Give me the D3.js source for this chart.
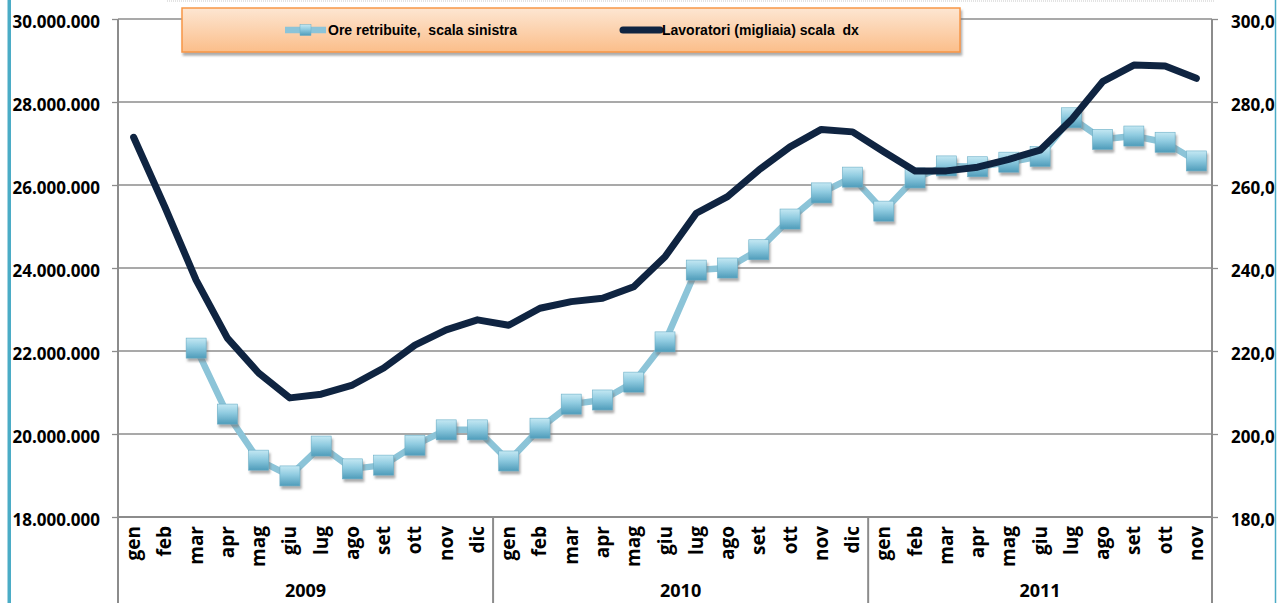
<!DOCTYPE html>
<html lang="it">
<head>
<meta charset="UTF-8">
<title>Ore retribuite e lavoratori</title>
<script src="https://d3js.org/d3.v7.min.js"></script>
<style>
    body { margin: 0; background: #fff; }
    svg { display: block; }
    .axis-label { font-family: "Open Sans", Arial, sans-serif; font-weight: 700; font-size: 17px; fill: #000; }
    .month-label { font-family: "Open Sans", Arial, sans-serif; font-weight: 700; font-size: 19px; fill: #000; }
    .year-label { font-family: "Open Sans", Arial, sans-serif; font-weight: 700; font-size: 18px; fill: #000; }
    .legend-text { font-family: "Liberation Sans", Arial, sans-serif; font-weight: 700; font-size: 14px; fill: #000; white-space: pre; }
</style>
</head>
<body>
<svg width="1277" height="603"></svg>
<script>
    // months / years for the category axis
    const monthNames = ["gen", "feb", "mar", "apr", "mag", "giu", "lug", "ago", "set", "ott", "nov", "dic"];
    const years = ["2009", "2010", "2011"];
    const monthsPerYear = [12, 12, 11];

    // Ore retribuite (left scale)
    const ore = [null, null, 22070000, 20480000, 19370000, 18990000, 19710000, 19160000, 19250000, 19730000,
        20100000, 20100000, 19350000, 20140000, 20720000, 20820000, 21250000, 22220000, 23950000, 24000000,
        24440000, 25180000, 25810000, 26190000, 25370000, 26170000, 26460000, 26440000, 26550000, 26690000,
        27620000, 27100000, 27180000, 27030000, 26580000];

    // Lavoratori in migliaia (right scale)
    const lavoratori = [271.5, 254.7, 237.1, 223.1, 214.7, 208.7, 209.6, 211.8, 215.9, 221.4,
        225.1, 227.5, 226.2, 230.3, 231.9, 232.7, 235.5, 242.7, 253.2, 257.2,
        263.6, 269.2, 273.4, 272.8, 268.0, 263.4, 263.4, 264.3, 266.2, 268.4,
        275.7, 284.9, 288.9, 288.7, 285.7];

    const leftTicks = [18000000, 20000000, 22000000, 24000000, 26000000, 28000000, 30000000];
    const rightTicks = [180, 200, 220, 240, 260, 280, 300];

    const legendNames = ["Ore retribuite,  scala sinistra", "Lavoratori (migliaia) scala  dx"];

    // build the category list
    const cats = [];
    years.forEach((y, yi) => {
        for (let m = 0; m < monthsPerYear[yi]; m++) cats.push({ year: y, month: monthNames[m] });
    });

    const plotLeft = 118, plotRight = 1212, plotTop = 19, plotBottom = 517;
    const svg = d3.select("svg");

    const x = d3.scaleBand().domain(d3.range(cats.length)).range([plotLeft, plotRight]).padding(0);
    const cx = i => x(i) + x.bandwidth() / 2;
    const yL = d3.scaleLinear().domain([18000000, 30000000]).range([plotBottom, plotTop]);
    const yR = d3.scaleLinear().domain([180, 300]).range([plotBottom, plotTop]);

    const it = d3.formatLocale({ decimal: ",", thousands: ".", grouping: [3], currency: ["", "€"] });
    const fmtL = it.format(",");
    const fmtR = it.format(".1f");

    const defs = svg.append("defs");
    const mg = defs.append("linearGradient").attr("id", "markerGrad").attr("x1", 0).attr("y1", 0).attr("x2", 0).attr("y2", 1);
    mg.append("stop").attr("offset", "0%").attr("stop-color", "#c4e8f3");
    mg.append("stop").attr("offset", "45%").attr("stop-color", "#8fcbe0");
    mg.append("stop").attr("offset", "100%").attr("stop-color", "#4f9cba");
    const lg = defs.append("linearGradient").attr("id", "legendGrad").attr("x1", 0).attr("y1", 0).attr("x2", 0).attr("y2", 1);
    lg.append("stop").attr("offset", "0%").attr("stop-color", "#fde6d2");
    lg.append("stop").attr("offset", "100%").attr("stop-color", "#fbbe8a");
    const sh = defs.append("filter").attr("id", "shadow").attr("x", "-30%").attr("y", "-30%").attr("width", "170%").attr("height", "170%");
    sh.append("feDropShadow").attr("dx", 1.5).attr("dy", 3).attr("stdDeviation", 1.3)
        .attr("flood-color", "#777").attr("flood-opacity", 0.6);

    // teal frame edges
    svg.append("rect").attr("x", 7.5).attr("y", 0).attr("width", 3.5).attr("height", 603).attr("fill", "#4bacc6");
    svg.append("line").attr("x1", 1275.5).attr("x2", 1275.5).attr("y1", 0).attr("y2", 603)
        .attr("stroke", "#4bacc6").attr("stroke-width", 1.5);
    svg.append("line").attr("x1", 167).attr("x2", 1215).attr("y1", 1).attr("y2", 1)
        .attr("stroke", "#dadada").attr("stroke-width", 1.5).attr("stroke-dasharray", "1,1");

    // gridlines
    svg.append("g").selectAll("line").data(leftTicks).join("line")
        .attr("x1", plotLeft).attr("x2", plotRight)
        .attr("y1", d => yL(d)).attr("y2", d => yL(d))
        .attr("stroke", "#8c8c8c").attr("stroke-width", 1.3);

    // left axis
    const gL = svg.append("g").attr("transform", `translate(${plotLeft},0)`)
        .call(d3.axisLeft(yL).tickValues(leftTicks).tickFormat(fmtL).tickSize(6).tickPadding(12));
    gL.select(".domain").remove();
    gL.selectAll(".tick line").attr("stroke", "#8c8c8c").attr("stroke-width", 1.3);
    gL.selectAll(".tick text").attr("class", "axis-label").attr("dy", "0.5em");
    gL.attr("font-family", null).attr("font-size", null);

    // right axis
    const gR = svg.append("g").attr("transform", `translate(${plotRight},0)`)
        .call(d3.axisRight(yR).tickValues(rightTicks).tickFormat(fmtR).tickSize(6).tickPadding(13));
    gR.select(".domain").remove();
    gR.selectAll(".tick line").attr("stroke", "#8c8c8c").attr("stroke-width", 1.3);
    gR.selectAll(".tick text").attr("class", "axis-label").attr("dy", "0.5em");
    gR.attr("font-family", null).attr("font-size", null);

    // vertical axis lines and year separators
    const seps = [0];
    monthsPerYear.reduce((acc, n) => { seps.push(acc + n); return acc + n; }, 0);
    svg.append("g").selectAll("line").data(seps).join("line")
        .attr("x1", d => d < cats.length ? x(d) : plotRight)
        .attr("x2", d => d < cats.length ? x(d) : plotRight)
        .attr("y1", d => (d === 0 || d === cats.length) ? plotTop : plotBottom)
        .attr("y2", 603)
        .attr("stroke", "#8c8c8c").attr("stroke-width", 2);
    svg.append("line").attr("x1", plotLeft).attr("x2", plotRight).attr("y1", plotBottom).attr("y2", plotBottom)
        .attr("stroke", "#8c8c8c").attr("stroke-width", 2);

    // month labels
    svg.append("g").selectAll("text").data(cats).join("text")
        .attr("class", "month-label")
        .attr("text-anchor", "end")
        .attr("transform", (d, i) => `translate(${cx(i) + 6.5},${plotBottom + 9}) rotate(-90)`)
        .text(d => d.month);

    // year labels
    svg.append("g").selectAll("text").data(years).join("text")
        .attr("class", "year-label")
        .attr("text-anchor", "middle")
        .attr("x", (d, i) => {
            const a = seps[i], b = seps[i + 1];
            return (x(a) + (b < cats.length ? x(b) : plotRight)) / 2;
        })
        .attr("y", 597)
        .text(d => d);

    // Ore retribuite line + markers
    const oreLine = d3.line().defined(d => d != null).x((d, i) => cx(i)).y(d => yL(d));
    svg.append("path").datum(ore).attr("d", oreLine)
        .attr("fill", "none").attr("stroke", "#8cc4d8").attr("stroke-width", 6.5).attr("stroke-linejoin", "round");

    const ms = 20;
    svg.append("g").selectAll("rect").data(ore.map((v, i) => ({ v, i })).filter(d => d.v != null)).join("rect")
        .attr("x", d => cx(d.i) - ms / 2).attr("y", d => yL(d.v) - ms / 2)
        .attr("width", ms).attr("height", ms)
        .attr("fill", "url(#markerGrad)").attr("stroke", "#6aaec6").attr("stroke-width", 0.6)
        .attr("filter", "url(#shadow)");

    // Lavoratori line
    const lavLine = d3.line().x((d, i) => cx(i)).y(d => yR(d));
    svg.append("path").datum(lavoratori).attr("d", lavLine)
        .attr("fill", "none").attr("stroke", "#0f2441").attr("stroke-width", 7)
        .attr("stroke-linejoin", "round").attr("stroke-linecap", "round");

    // legend
    const leg = svg.append("g");
    leg.append("rect").attr("x", 182).attr("y", 8).attr("width", 778).attr("height", 44)
        .attr("fill", "url(#legendGrad)").attr("stroke", "#f79646").attr("stroke-width", 1.5)
        .attr("filter", "url(#shadow)");
    leg.append("line").attr("x1", 285).attr("x2", 326).attr("y1", 30).attr("y2", 30)
        .attr("stroke", "#8cc4d8").attr("stroke-width", 6.5);
    leg.append("rect").attr("x", 300).attr("y", 24.5).attr("width", 11).attr("height", 11)
        .attr("fill", "url(#markerGrad)").attr("stroke", "#6aaec6").attr("stroke-width", 0.5);
    leg.append("text").attr("class", "legend-text").attr("x", 328).attr("y", 35).text(legendNames[0]);
    leg.append("line").attr("x1", 623).attr("x2", 660).attr("y1", 30).attr("y2", 30)
        .attr("stroke", "#0f2441").attr("stroke-width", 7).attr("stroke-linecap", "round");
    leg.append("text").attr("class", "legend-text").attr("x", 662).attr("y", 35).text(legendNames[1]);
</script>
</body>
</html>
